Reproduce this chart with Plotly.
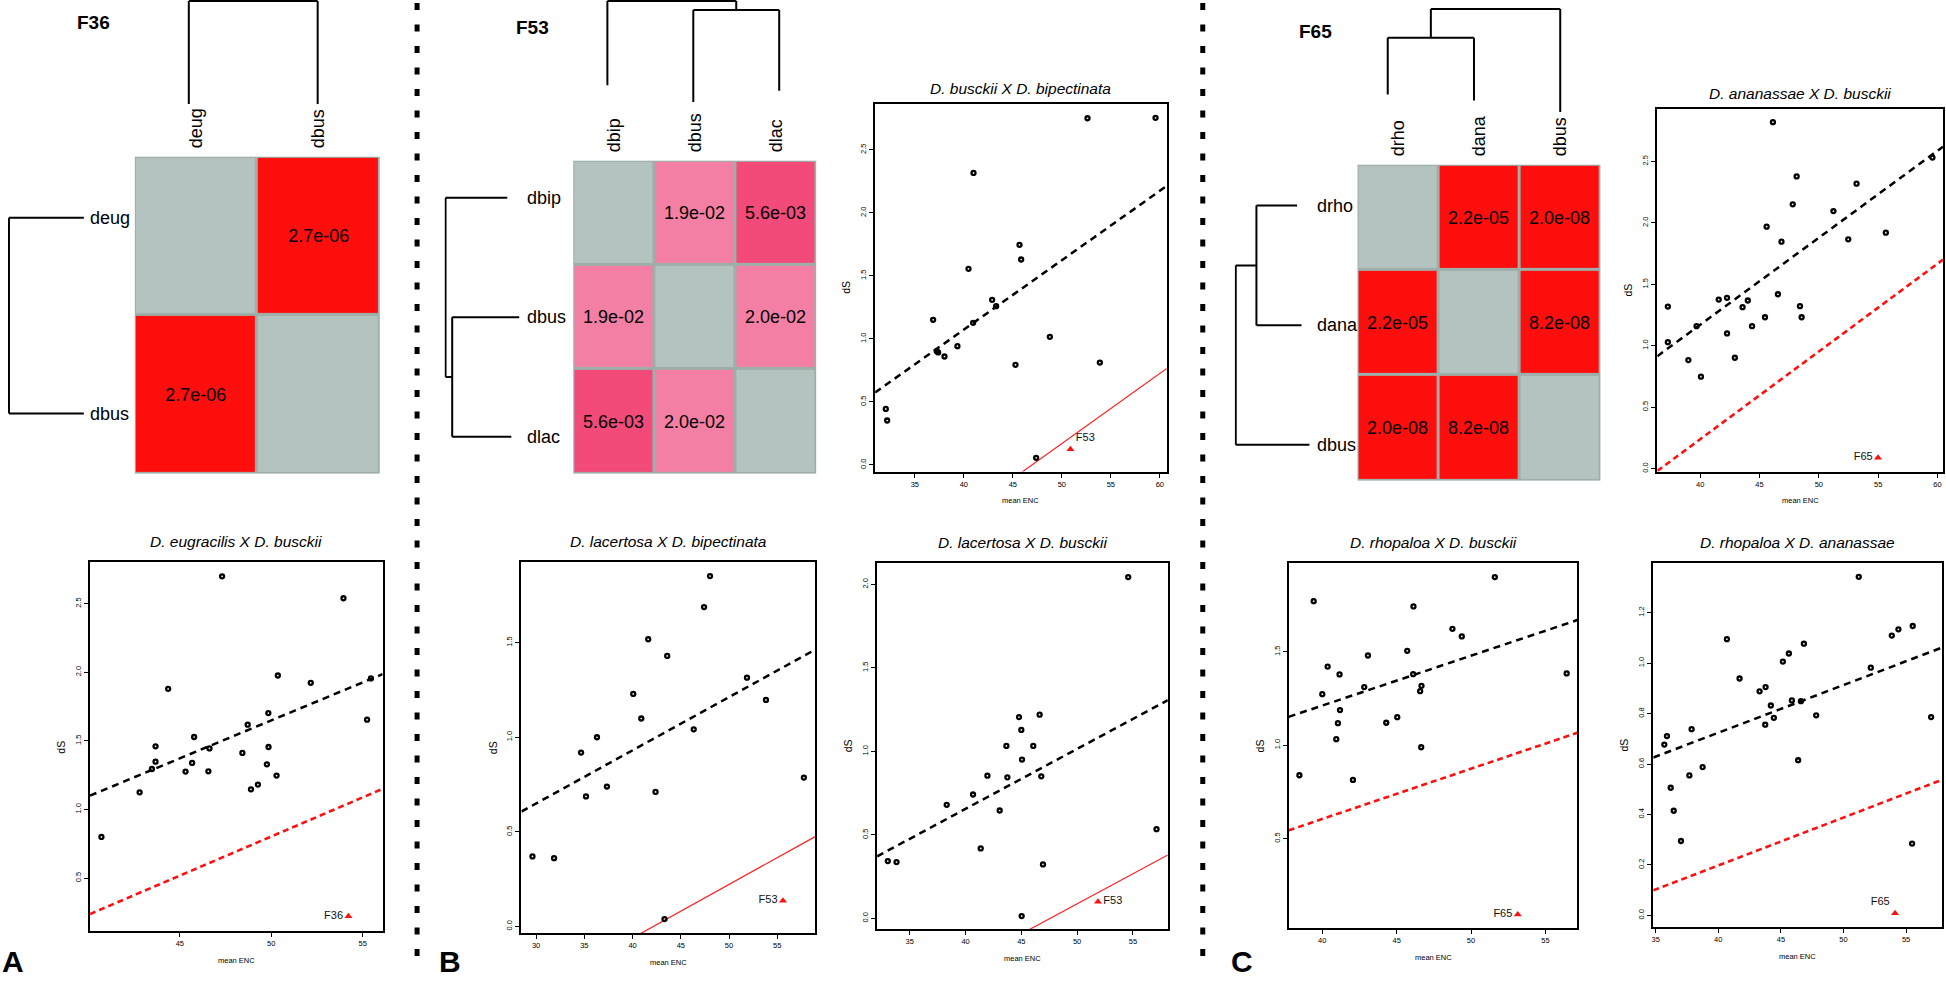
import plotly.graph_objects as go

W, H = 1946, 983
FONT = "Liberation Sans, Arial, Helvetica, sans-serif"

# ---------------- data ----------------
A_labels = ["deug", "dbus"]
A_p = [[None, 2.7e-06], [2.7e-06, None]]
B_labels = ["dbip", "dbus", "dlac"]
B_p = [[None, 1.9e-02, 5.6e-03], [1.9e-02, None, 2.0e-02], [5.6e-03, 2.0e-02, None]]
C_labels = ["drho", "dana", "dbus"]
C_p = [[None, 2.2e-05, 2.0e-08], [2.2e-05, None, 8.2e-08], [2.0e-08, 8.2e-08, None]]

# dendrograms: leaf tip heights and merges (child_a, child_b, height); merged node ids start at n
A_tips = [0.0, 0.0]
A_merges = [(0, 1, 1.0)]
B_tips = [0.165, 0.0, 0.11]
B_merges = [(1, 2, 0.91), (0, 3, 1.0)]
C_tips = [0.17, 0.11, 0.0]
C_merges = [(0, 1, 0.72), (3, 2, 1.0)]

# scatter panels: mean ENC vs dS
A_title = "D. eugracilis X D. busckii"
A_enc = [40.71, 42.80, 43.47, 43.67, 43.67, 44.36, 45.31, 45.67, 45.78, 46.56, 46.62, 47.31, 48.42,
         48.71, 48.89, 49.27, 49.76, 49.84, 49.85, 50.29, 50.36, 52.16, 53.95, 55.24, 55.45]
A_ds = [0.80, 1.125, 1.295, 1.348, 1.46, 1.879, 1.276, 1.339, 1.528, 1.278, 1.445, 2.699, 1.412,
        1.618, 1.147, 1.181, 1.329, 1.702, 1.455, 1.247, 1.976, 1.923, 2.539, 1.654, 1.955]
A_fit = (0.0553, -1.116)
A_null = (0.057, -2.047)
A_fam = (54.22, 0.221, "F36")

B1_title = "D. busckii X D. bipectinata"
B1_enc = [32.04, 32.18, 36.87, 37.24, 37.38, 38.03, 39.35, 40.48, 40.95, 40.99, 42.89, 43.30, 45.27,
          45.68, 45.85, 47.38, 48.78, 52.62, 53.88, 59.56]
B1_ds = [0.444, 0.352, 1.151, 0.902, 0.892, 0.860, 0.942, 1.556, 1.127, 2.317, 1.310, 1.259, 0.794,
         1.746, 1.630, 0.056, 1.016, 2.751, 0.812, 2.754]
B1_fit = (0.0551, -1.131)
B1_null = (0.0557, -2.616)
B1_fam = (50.88, 0.124, "F53")

B2_title = "D. lacertosa X D. bipectinata"
B2_enc = [29.62, 31.86, 34.66, 35.17, 36.31, 37.34, 40.07, 40.90, 41.62, 42.38, 43.31, 43.59, 46.34,
          47.41, 48.03, 51.86, 53.83, 57.76]
B2_ds = [0.370, 0.361, 0.919, 0.687, 1.0, 0.739, 1.229, 1.099, 1.518, 0.711, 0.039, 1.430, 1.042,
         1.688, 1.852, 1.315, 1.197, 0.787]
B2_fit = (0.0281, -0.193)
B2_null = (0.0283, -1.193)
B2_fam = (55.59, 0.136, "F53")

B3_title = "D. lacertosa X D. busckii"
B3_enc = [33.03, 33.81, 38.31, 40.67, 41.36, 41.96, 43.06, 43.66, 43.75, 44.79, 45.00, 45.03, 45.06,
          46.07, 46.64, 46.79, 46.94, 54.58, 57.12]
B3_ds = [0.343, 0.337, 0.680, 0.742, 0.419, 0.855, 0.646, 1.033, 0.845, 1.206, 1.129, 0.014, 0.951,
         1.033, 1.220, 0.851, 0.323, 2.044, 0.534]
B3_fit = (0.0359, -0.780)
B3_null = (0.036, -1.713)
B3_fam = (51.87, 0.10, "F53")

C1_title = "D. ananassae X D. busckii"
C1_enc = [37.27, 37.27, 39.0, 39.69, 40.06, 41.56, 42.26, 42.26, 42.92, 43.57, 44.01, 44.37, 45.46,
          45.60, 46.13, 46.55, 46.85, 47.80, 48.13, 48.41, 48.55, 51.23, 52.48, 53.18, 55.65, 59.58]
C1_ds = [1.319, 1.029, 0.883, 1.159, 0.748, 1.376, 1.100, 1.390, 0.902, 1.314, 1.368, 1.159, 1.232,
         1.969, 2.820, 1.419, 1.847, 2.151, 2.378, 1.322, 1.232, 2.096, 1.866, 2.319, 1.920, 2.532]
C1_fit = (0.0708, -1.661)
C1_null = (0.0714, -2.617)
C1_fam = (54.99, 0.089, "F65")

C2_title = "D. rhopaloa X D. busckii"
C2_enc = [38.46, 39.42, 40.0, 40.36, 40.94, 41.05, 41.16, 41.19, 42.06, 42.82, 43.07, 44.30, 45.04,
          45.71, 46.11, 46.13, 46.58, 46.65, 46.67, 48.75, 49.38, 51.60, 56.43]
C2_ds = [0.839, 1.771, 1.273, 1.421, 1.032, 1.118, 1.379, 1.188, 0.814, 1.311, 1.480, 1.120, 1.150,
         1.505, 1.380, 1.743, 1.289, 0.989, 1.318, 1.623, 1.582, 1.900, 1.384]
C2_fit = (0.0267, 0.144)
C2_null = (0.0269, -0.471)
C2_fam = (53.14, 0.093, "F65")

C3_title = "D. rhopaloa X D. ananassae"
C3_enc = [35.69, 35.90, 36.20, 36.44, 37.02, 37.69, 37.87, 38.75, 40.69, 41.70, 43.30, 43.78, 43.75,
          44.20, 44.44, 45.16, 45.64, 45.88, 46.38, 46.60, 46.84, 47.82, 51.22, 52.18, 53.86, 54.39,
          55.48, 55.53, 57.00]
C3_ds = [0.677, 0.711, 0.506, 0.415, 0.295, 0.555, 0.738, 0.588, 1.095, 0.939, 0.888, 0.905, 0.756,
         0.832, 0.783, 1.006, 1.038, 0.852, 0.615, 0.849, 1.077, 0.793, 1.342, 0.982, 1.109, 1.134,
         0.285, 1.147, 0.786]
C3_fit = (0.0189, -0.032)
C3_null = (0.019, -0.562)
C3_fam = (54.12, 0.009, "F65")

# ---------------- helpers ----------------
layout = dict()
traces = []
annotations = []
shapes = []


def dx(x0, x1):
    return [x0 / W, x1 / W]


def dy(y0, y1):
    return [1 - y1 / H, 1 - y0 / H]


def ak(prefix, i):
    return prefix if i == 1 else f"{prefix}{i}"


def ref(letter, i):
    return letter if i == 1 else f"{letter}{i}"


HID = dict(visible=False, showgrid=False, zeroline=False, fixedrange=True)

CELL_COLORS = ["#b4c3bf", "#ff0e0e", "#f24b7a", "#f47fa5"]


def code(v):
    if v is None:
        return 0
    if v < 1e-3:
        return 1
    if v < 1e-2:
        return 2
    return 3


def dendro(tips, merges):
    n = len(tips)
    pos = {i: float(i) for i in range(n)}
    hgt = {i: tips[i] for i in range(n)}
    ps, hs = [], []
    for k, (a, b, h) in enumerate(merges):
        for c in (a, b):
            ps += [pos[c], pos[c], None]
            hs += [hgt[c], h, None]
        ps += [pos[a], pos[b], None]
        hs += [h, h, None]
        pos[n + k] = (pos[a] + pos[b]) / 2
        hgt[n + k] = h
    return ps, hs


def add_heat(i, labels, p, tips, merges, hm_box, top_box, top_rng, left_box, left_rng,
             rowlab_x, name, name_xy):
    n = len(labels)
    z = [[code(v) for v in row] for row in p]
    txt = [["" if v is None else f"{v:.1e}" for v in row] for row in p]
    cs = []
    m = len(CELL_COLORS)
    for k, c in enumerate(CELL_COLORS):
        cs += [[k / m, c], [(k + 1) / m, c]]
    layout[ak("xaxis", i)] = dict(domain=dx(hm_box[0], hm_box[1]), range=[-0.5, n - 0.5],
                                  anchor=ref("y", i), side="top", tickvals=list(range(n)),
                                  ticktext=labels, tickangle=-90, ticks="outside", ticklen=4,
                                  tickcolor="rgba(0,0,0,0)", showgrid=False,
                                  zeroline=False, showline=False,
                                  tickfont=dict(size=18, color="black", family=FONT))
    layout[ak("yaxis", i)] = dict(domain=dy(hm_box[2], hm_box[3]), range=[n - 0.5, -0.5],
                                  anchor=ref("x", i), showticklabels=False, ticks="",
                                  showgrid=False, zeroline=False, showline=False)
    shapes.append(dict(type="rect", xref=ref("x", i), yref=ref("y", i), x0=-0.5, x1=n - 0.5,
                       y0=-0.5, y1=n - 0.5, fillcolor="#9eaea9",
                       line=dict(color="#9eaea9", width=3), layer="below"))
    traces.append(go.Heatmap(z=z, x=list(range(n)), y=list(range(n)), text=txt,
                             texttemplate="%{text}",
                             textfont=dict(size=18, color="black", family=FONT),
                             colorscale=cs, zmin=-0.5, zmax=m - 0.5, showscale=False,
                             xgap=3, ygap=3, hoverinfo="skip",
                             xaxis=ref("x", i), yaxis=ref("y", i)))
    ps, hs = dendro(tips, merges)
    # top dendrogram
    j = i + 1
    layout[ak("xaxis", j)] = dict(domain=dx(top_box[0], top_box[1]), range=[-0.5, n - 0.5],
                                  anchor=ref("y", j), **HID)
    layout[ak("yaxis", j)] = dict(domain=dy(top_box[2], top_box[3]), range=top_rng,
                                  anchor=ref("x", j), **HID)
    traces.append(go.Scatter(x=ps, y=hs, mode="lines", line=dict(color="black", width=2),
                             hoverinfo="skip", xaxis=ref("x", j), yaxis=ref("y", j)))
    # left dendrogram
    k = i + 2
    layout[ak("xaxis", k)] = dict(domain=dx(left_box[0], left_box[1]), range=left_rng,
                                  anchor=ref("y", k), **HID)
    layout[ak("yaxis", k)] = dict(domain=dy(left_box[2], left_box[3]), range=[n - 0.5, -0.5],
                                  anchor=ref("x", k), **HID)
    traces.append(go.Scatter(x=hs, y=ps, mode="lines", line=dict(color="black", width=2),
                             hoverinfo="skip", xaxis=ref("x", k), yaxis=ref("y", k)))
    for r, lab in enumerate(labels):
        annotations.append(dict(text=lab, xref="paper", x=rowlab_x / W, yref=ref("y", k), y=r,
                                xanchor="left", yanchor="middle", showarrow=False,
                                font=dict(size=18, color="black", family=FONT)))
    annotations.append(dict(text=f"<b>{name}</b>", xref="paper", yref="paper",
                            x=name_xy[0] / W, y=1 - name_xy[1] / H, xanchor="left",
                            yanchor="middle", showarrow=False,
                            font=dict(size=19, color="black", family=FONT)))


def add_scatter(i, box, xr, yr, xt, yt, enc, ds, fit, null, null_style, fam, fampos, title,
                title_shift):
    xa = dict(domain=dx(box[0], box[1]), range=xr, anchor=ref("y", i), tickvals=xt,
              ticks="outside", ticklen=4, tickwidth=1, tickcolor="black", showline=True,
              linewidth=2, linecolor="black", mirror=True, showgrid=False, zeroline=False,
              tickfont=dict(size=7.5, color="black", family=FONT))
    ya = dict(domain=dy(box[2], box[3]), range=yr, anchor=ref("x", i), tickvals=yt,
              tickformat=".1f", tickangle=-90, ticks="outside", ticklen=4, tickwidth=1,
              tickcolor="black", showline=True, linewidth=2, linecolor="black", mirror=True,
              showgrid=False, zeroline=False,
              tickfont=dict(size=7.5, color="black", family=FONT))
    layout[ak("xaxis", i)] = xa
    layout[ak("yaxis", i)] = ya
    xs, ys = ref("x", i), ref("y", i)
    lx = list(xr)
    traces.append(go.Scatter(x=lx, y=[null[1] + null[0] * v for v in lx], mode="lines",
                             line=null_style, hoverinfo="skip", xaxis=xs, yaxis=ys))
    traces.append(go.Scatter(x=lx, y=[fit[1] + fit[0] * v for v in lx], mode="lines",
                             line=dict(color="black", width=2.5, dash="7px,5px"),
                             hoverinfo="skip", xaxis=xs, yaxis=ys))
    traces.append(go.Scatter(x=enc, y=ds, mode="markers",
                             marker=dict(symbol="circle-open", size=4, color="black",
                                         line=dict(color="black", width=2.3)),
                             hoverinfo="skip", xaxis=xs, yaxis=ys))
    traces.append(go.Scatter(x=[fam[0]], y=[fam[1]], mode="markers+text", text=[fam[2]],
                             textposition=fampos,
                             textfont=dict(size=11, color="#111111", family=FONT),
                             marker=dict(symbol="triangle-up", size=7, color="#ff1010"),
                             hoverinfo="skip", xaxis=xs, yaxis=ys, cliponaxis=False))
    annotations.append(dict(text=f"<i>{title}</i>", xref=f"{xs} domain", yref=f"{ys} domain",
                            x=0.5, y=1, yshift=title_shift, xanchor="center", yanchor="middle",
                            showarrow=False, font=dict(size=15.5, color="black", family=FONT)))
    annotations.append(dict(text="mean ENC", xref=f"{xs} domain", yref=f"{ys} domain",
                            x=0.5, y=0, yshift=-29, xanchor="center", yanchor="middle",
                            showarrow=False, font=dict(size=7.5, color="black", family=FONT)))
    annotations.append(dict(text="dS", xref=f"{xs} domain", yref=f"{ys} domain",
                            x=0, y=0.5, xshift=-29, textangle=-90, xanchor="center",
                            yanchor="middle", showarrow=False,
                            font=dict(size=10.5, color="black", family=FONT)))


RED_DASH = dict(color="#ff1010", width=2.6, dash="6px,4px")
RED_THIN = dict(color="#ff2020", width=1.2)

# ---------------- heatmaps + dendrograms ----------------
add_heat(1, A_labels, A_p, A_tips, A_merges, (133, 378, 157, 474), (122.5, 380.5, 0, 104),
         [0, 1.0097], (6, 82, 120, 512), [1.013, 0], 86, "F36", (73, 23))
add_heat(4, B_labels, B_p, B_tips, B_merges, (572, 815, 161, 474), (563, 821, 0, 102),
         [0, 1.0099], (443, 518, 138, 497), [1.0135, 0], 524, "F53", (513, 28))
add_heat(7, C_labels, C_p, C_tips, C_merges, (1357, 1600, 165, 481), (1344, 1603, 8, 112),
         [0, 1.0097], (1234, 1309, 146, 505), [1.0135, 0], 1314, "F65", (1296, 32))

# ---------------- scatter plots ----------------
add_scatter(10, (88, 381, 563, 932), [40.08, 56.09], [0.114, 2.80], [45, 50, 55],
            [0.5, 1.0, 1.5, 2.0, 2.5], A_enc, A_ds, A_fit, A_null, RED_DASH, A_fam,
            "middle left", A_title, 21)
add_scatter(11, (874, 1166, 104, 472), [30.95, 60.71], [-0.053, 2.865], [35, 40, 45, 50, 55, 60],
            [0.0, 0.5, 1.0, 1.5, 2.0, 2.5], B1_enc, B1_ds, B1_fit, B1_null, RED_THIN, B1_fam,
            "top right", B1_title, 15)
add_scatter(12, (520, 814, 563, 934), [28.48, 58.93], [-0.035, 1.924], [30, 35, 40, 45, 50, 55],
            [0.0, 0.5, 1.0, 1.5], B2_enc, B2_ds, B2_fit, B2_null, RED_THIN, B2_fam,
            "middle left", B2_title, 21)
add_scatter(13, (876, 1167, 564, 930), [32.07, 58.13], [-0.064, 2.126], [35, 40, 45, 50, 55],
            [0.0, 0.5, 1.0, 1.5, 2.0], B3_enc, B3_ds, B3_fit, B3_null, RED_THIN, B3_fam,
            "middle right", B3_title, 21)
add_scatter(14, (1657, 1943, 109, 472), [36.38, 60.47], [-0.024, 2.928], [40, 45, 50, 55, 60],
            [0.0, 0.5, 1.0, 1.5, 2.0, 2.5], C1_enc, C1_ds, C1_fit, C1_null, RED_DASH, C1_fam,
            "middle left", C1_title, 15)
add_scatter(15, (1288, 1577, 564, 929), [37.74, 57.15], [0.021, 1.973], [40, 45, 50, 55],
            [0.5, 1.0, 1.5], C2_enc, C2_ds, C2_fit, C2_null, RED_DASH, C2_fam,
            "middle left", C2_title, 21)
add_scatter(16, (1653, 1942, 564, 928), [34.81, 57.87], [-0.046, 1.395], [35, 40, 45, 50, 55],
            [0.0, 0.2, 0.4, 0.6, 0.8, 1.0, 1.2], C3_enc, C3_ds, C3_fit, C3_null, RED_DASH, C3_fam,
            "top left", C3_title, 21)

# ---------------- separators and panel letters ----------------
for sx in (415.5, 1202):
    shapes.append(dict(type="line", xref="paper", yref="paper", x0=sx / W, x1=sx / W,
                       y0=1 - 3 / H, y1=1 - 970 / H,
                       line=dict(color="black", width=5, dash="7px,14.5px")))

for letter, lx in (("A", -2), ("B", 435), ("C", 1228)):
    annotations.append(dict(text=f"<b>{letter}</b>", xref="paper", yref="paper", x=lx / W,
                            y=1 - 962 / H, xanchor="left", yanchor="middle", showarrow=False,
                            font=dict(size=30, color="black", family=FONT)))

fig = go.Figure(data=traces)
fig.update_layout(**layout)
fig.update_layout(width=W, height=H, margin=dict(l=0, r=0, t=0, b=0), showlegend=False,
                  plot_bgcolor="white", paper_bgcolor="white", annotations=annotations,
                  shapes=shapes, hovermode=False, font=dict(family=FONT, color="black"))
fig.write_html("out.html", config={"displayModeBar": False},
               post_script="document.body.style.margin='0px';"
                           "document.body.style.overflow='hidden';")
